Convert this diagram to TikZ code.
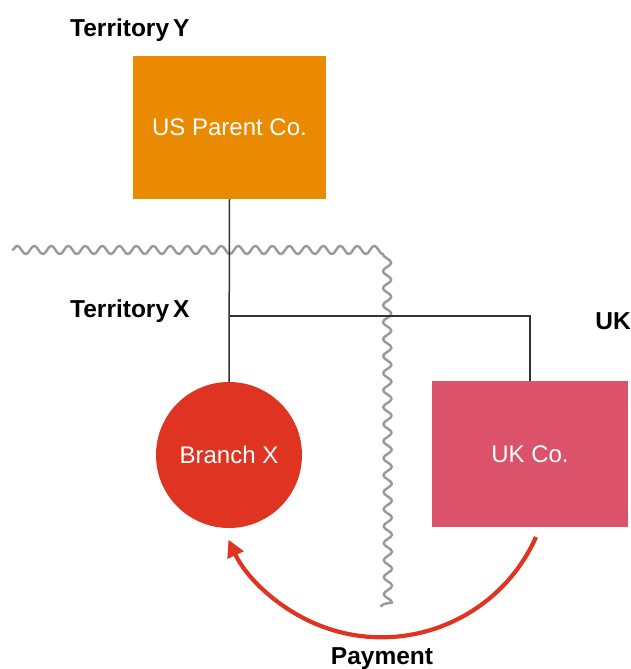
\documentclass[tikz,border=0pt]{standalone}
\usepackage{fontspec}
\setmainfont{Liberation Sans}
\usetikzlibrary{arrows.meta,decorations.pathmorphing}
\definecolor{parentorange}{HTML}{E98A00}
\definecolor{branchred}{HTML}{E03422}
\definecolor{ukpink}{HTML}{DC526B}
\definecolor{linkgrey}{HTML}{333333}
\definecolor{bordergrey}{HTML}{999999}
\tikzset{
  label text/.style={font=\fontsize{24.5}{28}\selectfont\bfseries, text=black, inner sep=0pt},
  entity text/.style={font=\fontsize{24}{28}\selectfont, text=white},
  entity box/.style={rectangle, draw=none, entity text},
  link/.style={draw=linkgrey, line width=1.5pt},
  border/.style={draw=bordergrey, line width=2.4pt, line join=round,
    decorate, decoration={snake, segment length=17pt, amplitude=4.2pt}},
  payflow/.style={draw=branchred, line width=4.2pt,
    -{Triangle[length=17pt,width=17pt]}}
}
\begin{document}
\begin{tikzpicture}[x=1pt,y=1pt]
  \useasboundingbox (0,0) rectangle (630,669);

  % territory border
  \draw[border] (12,419) -- (380,419) -- (381,62);

  % entities
  \node[entity box, fill=parentorange, minimum width=193pt, minimum height=143pt]
    (us) at (229.5,541.5) {US Parent Co.};
  \node[circle, fill=branchred, draw=none, minimum size=146pt, entity text]
    (branch) at (229,214) {Branch X};
  \node[entity box, fill=ukpink, minimum width=196pt, minimum height=146pt]
    (ukco) at (530,215) {UK Co.};

  % territory labels
  \node[label text, anchor=west] (terrY) at (70,639) {Territory\,Y};
  \node[label text, anchor=west] (terrX) at (70,358) {Territory\,X};
  \node[label text] (ukl) at (613,348) {UK};

  % ownership links
  \draw[link] (us.south) -- (branch.north);
  \coordinate (J) at (us.south |- 0,353);
  \draw[link] (J) -| (ukco.north);

  % payment flow
  \coordinate (payS) at (536,132);
  \draw[payflow] (payS) arc[start angle=-24, end angle=-155, radius=169];
  \node[label text, anchor=base] (pay) at (382,5) {Payment};
\end{tikzpicture}
\end{document}
